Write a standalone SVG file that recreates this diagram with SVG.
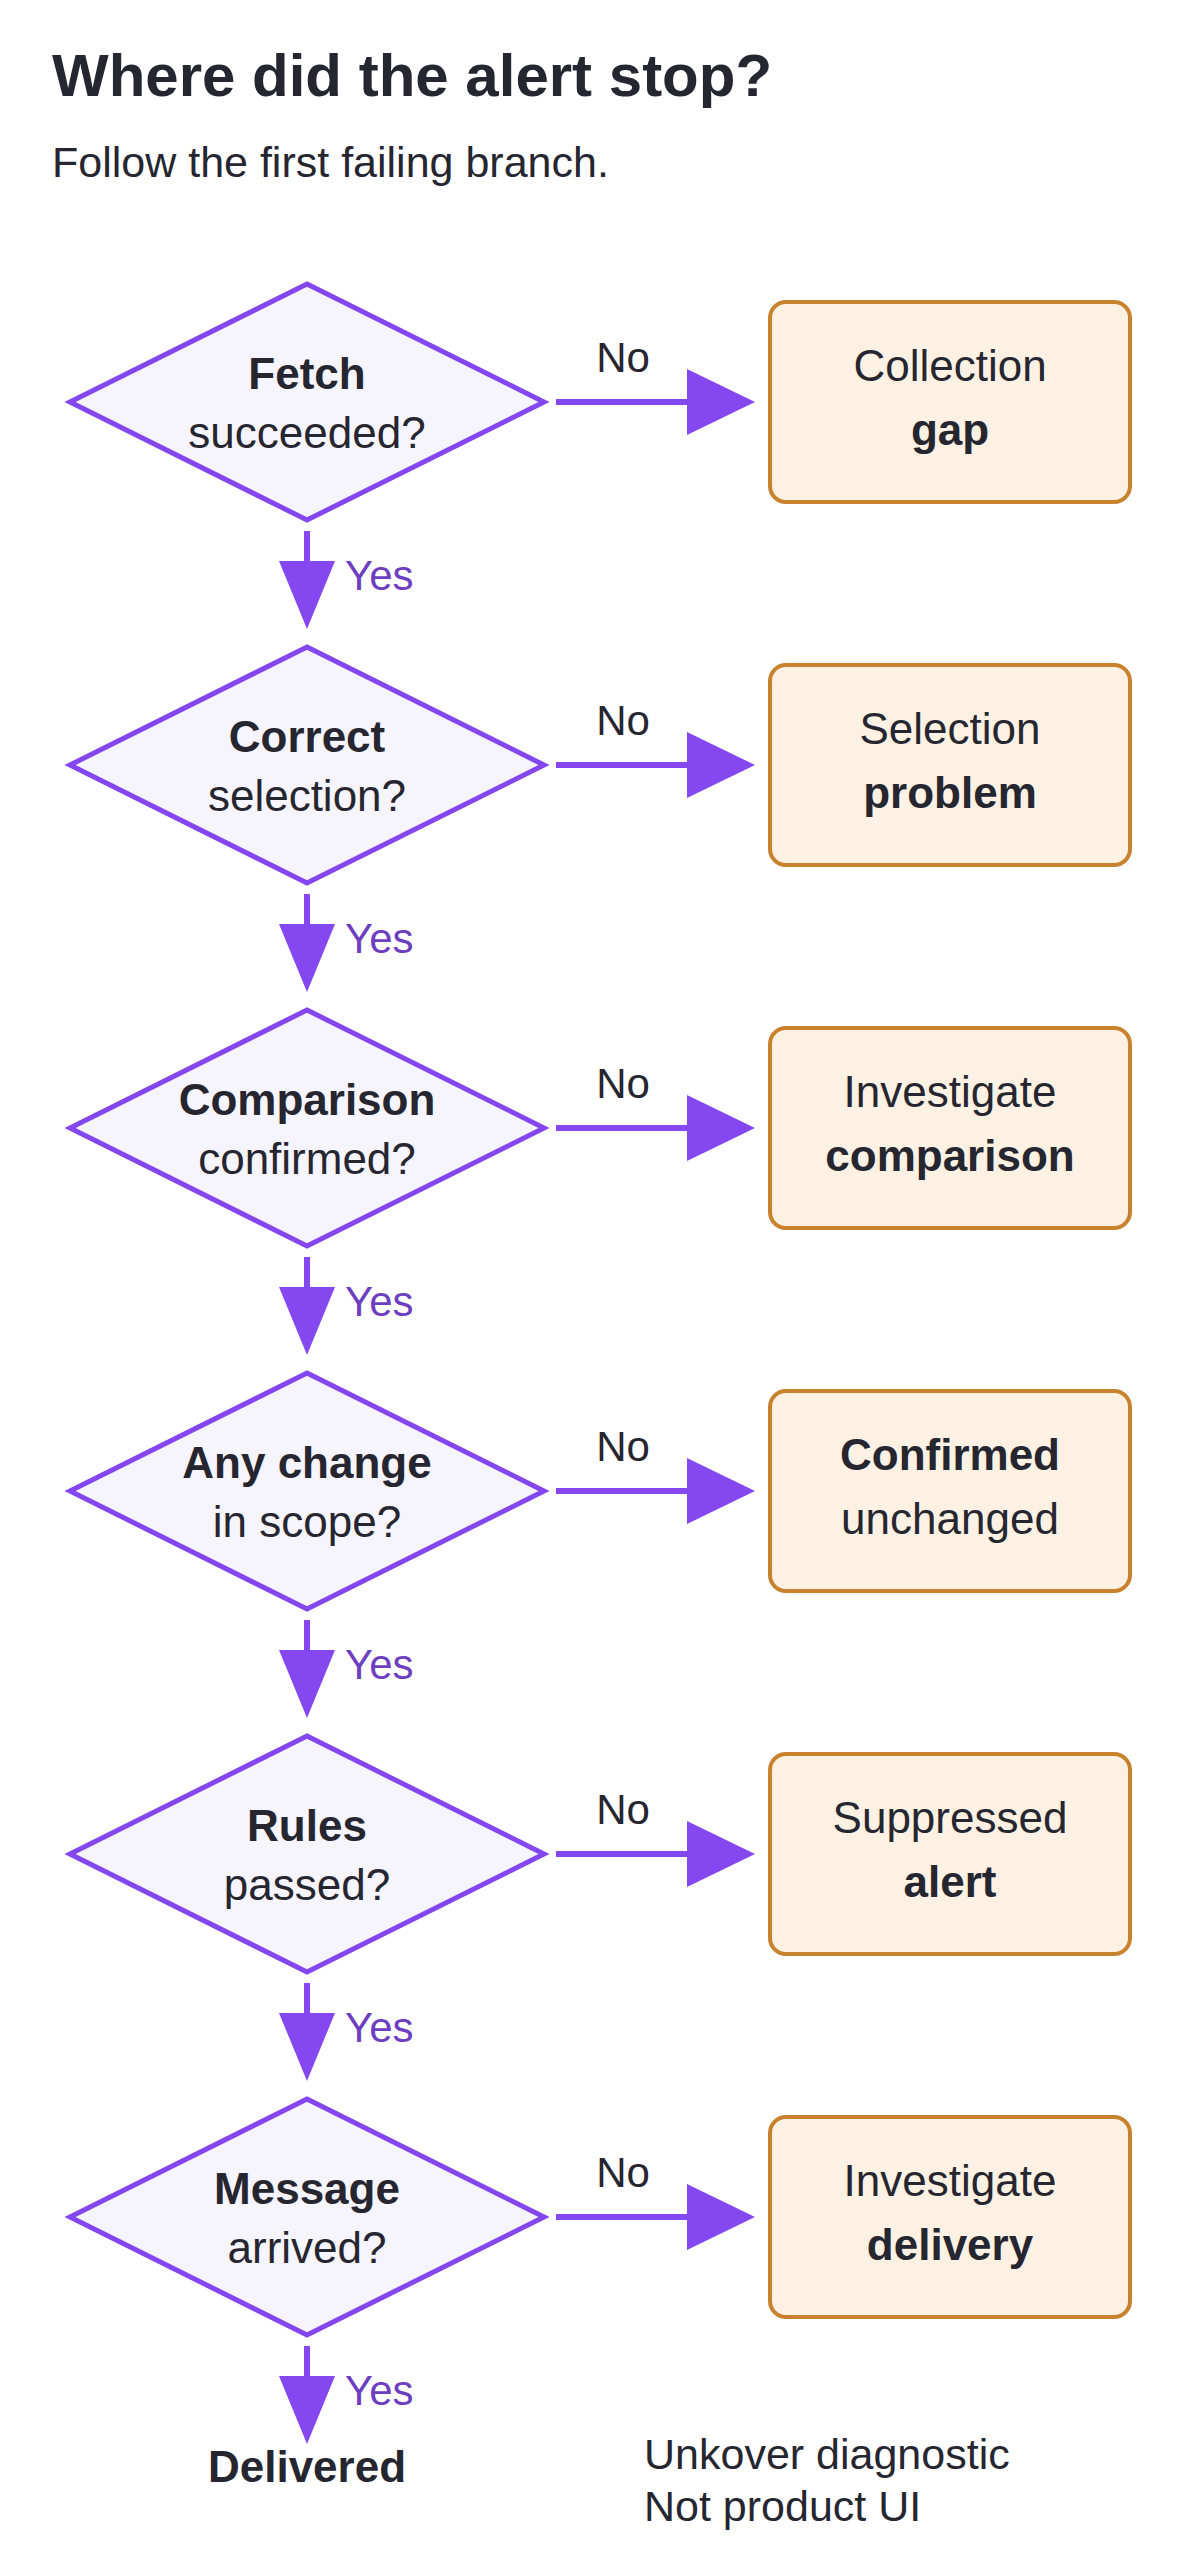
<svg xmlns="http://www.w3.org/2000/svg" width="1177" height="2560" viewBox="0 0 1177 2560">
<style>
text{font-family:"Liberation Sans",Arial,sans-serif;fill:#262631}
.t{font-size:60px;font-weight:bold}
.s{font-size:43px}
.n{font-size:44px;text-anchor:middle}
.b{font-weight:bold}
.d{fill:#F6F4FD;stroke:#8446EE;stroke-width:5}
.r{fill:#FDF1E3;stroke:#C8822E;stroke-width:4}
.c{stroke:#8447F0;stroke-width:6;fill:none}
.h{fill:#8447F0}
.y{font-size:42px;fill:#6D3FC0}
.no{font-size:42px;text-anchor:middle}
</style>
<rect width="1177" height="2560" fill="#fff"/>
<text class="t" x="52" y="96">Where did the alert stop?</text>
<text class="s" x="52" y="177">Follow the first failing branch.</text>

<g id="d1"><polygon class="d" points="307,284 544,402 307,520 70,402"/><text class="n" x="307" y="389"><tspan class="b">Fetch</tspan></text><text class="n" x="307" y="448">succeeded?</text></g>
<g id="d2"><polygon class="d" points="307,647 544,765 307,883 70,765"/><text class="n" x="307" y="752"><tspan class="b">Correct</tspan></text><text class="n" x="307" y="811">selection?</text></g>
<g id="d3"><polygon class="d" points="307,1010 544,1128 307,1246 70,1128"/><text class="n" x="307" y="1115"><tspan class="b">Comparison</tspan></text><text class="n" x="307" y="1174">confirmed?</text></g>
<g id="d4"><polygon class="d" points="307,1373 544,1491 307,1609 70,1491"/><text class="n" x="307" y="1478"><tspan class="b">Any change</tspan></text><text class="n" x="307" y="1537">in scope?</text></g>
<g id="d5"><polygon class="d" points="307,1736 544,1854 307,1972 70,1854"/><text class="n" x="307" y="1841"><tspan class="b">Rules</tspan></text><text class="n" x="307" y="1900">passed?</text></g>
<g id="d6"><polygon class="d" points="307,2099 544,2217 307,2335 70,2217"/><text class="n" x="307" y="2204"><tspan class="b">Message</tspan></text><text class="n" x="307" y="2263">arrived?</text></g>

<g id="r1"><rect class="r" x="770" y="302" width="360" height="200" rx="16"/><text class="n" x="950" y="381">Collection</text><text class="n b" x="950" y="445">gap</text></g>
<g id="r2"><rect class="r" x="770" y="665" width="360" height="200" rx="16"/><text class="n" x="950" y="744">Selection</text><text class="n b" x="950" y="808">problem</text></g>
<g id="r3"><rect class="r" x="770" y="1028" width="360" height="200" rx="16"/><text class="n" x="950" y="1107">Investigate</text><text class="n b" x="950" y="1171">comparison</text></g>
<g id="r4"><rect class="r" x="770" y="1391" width="360" height="200" rx="16"/><text class="n b" x="950" y="1470">Confirmed</text><text class="n" x="950" y="1534">unchanged</text></g>
<g id="r5"><rect class="r" x="770" y="1754" width="360" height="200" rx="16"/><text class="n" x="950" y="1833">Suppressed</text><text class="n b" x="950" y="1897">alert</text></g>
<g id="r6"><rect class="r" x="770" y="2117" width="360" height="200" rx="16"/><text class="n" x="950" y="2196">Investigate</text><text class="n b" x="950" y="2260">delivery</text></g>

<g id="end"><text class="n b" x="307" y="2482">Delivered</text></g>

<g id="connectors">
<path class="c" d="M556 402H690M556 765H690M556 1128H690M556 1491H690M556 1854H690M556 2217H690"/>
<path class="h" d="M687 369L755 402L687 435ZM687 732L755 765L687 798ZM687 1095L755 1128L687 1161ZM687 1458L755 1491L687 1524ZM687 1821L755 1854L687 1887ZM687 2184L755 2217L687 2250Z"/>
<path class="c" d="M307 531V565M307 894V928M307 1257V1291M307 1620V1654M307 1983V2017M307 2346V2380"/>
<path class="h" d="M279 561H335L307 629ZM279 924H335L307 992ZM279 1287H335L307 1355ZM279 1650H335L307 1718ZM279 2013H335L307 2081ZM279 2376H335L307 2444Z"/>
<text class="no" x="623" y="372">No</text><text class="no" x="623" y="735">No</text><text class="no" x="623" y="1098">No</text><text class="no" x="623" y="1461">No</text><text class="no" x="623" y="1824">No</text><text class="no" x="623" y="2187">No</text>
<text class="y" x="345" y="590">Yes</text><text class="y" x="345" y="953">Yes</text><text class="y" x="345" y="1316">Yes</text><text class="y" x="345" y="1679">Yes</text><text class="y" x="345" y="2042">Yes</text><text class="y" x="345" y="2405">Yes</text>
</g>
<text class="s" x="644" y="2469">Unkover diagnostic</text>
<text class="s" x="644" y="2521">Not product UI</text>
</svg>
